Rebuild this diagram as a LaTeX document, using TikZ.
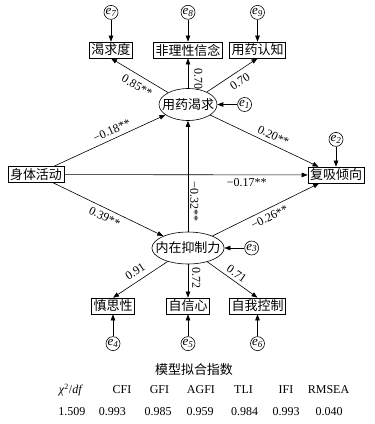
\documentclass[tikz,border=0pt]{standalone}
\usepackage{fontspec}
\setmainfont{Liberation Serif}
\newfontfamily\cjk{Noto Sans CJK SC}
\usetikzlibrary{positioning, arrows.meta, shapes.geometric}

\begin{document}
\begin{tikzpicture}[
  x=1pt, y=-1pt,
  node distance=22pt,
  obs/.style={rectangle, draw, line width=0.6pt,
              font=\cjk\fontsize{13}{13}\selectfont,
              inner xsep=2pt, inner ysep=2pt},
  lat/.style={ellipse, draw, line width=0.6pt,
              font=\cjk\fontsize{13}{13}\selectfont,
              inner xsep=-5.5pt, inner ysep=5.3pt},
  err/.style={circle, draw, line width=0.6pt, inner sep=0pt,
              minimum size=14pt, font=\fontsize{13}{13}\selectfont\itshape},
  arr/.style={-{Triangle[length=6pt, width=4.5pt]}, line width=0.6pt},
  coef/.style={font=\fontsize{12}{12}\selectfont, inner sep=4pt},
  idx/.style={font=\fontsize{12}{12}\selectfont, inner sep=0pt}
]
\useasboundingbox (0,0) rectangle (375,424);

% variables
\node[obs] (sthd) at (36,174.5) {身体活动};
\node[obs] (fxqx) at (336,175) {复吸倾向};
\node[lat] (yyqk) at (188,104.5) {用药渴求};
\node[lat, inner xsep=-7pt] (nzyz) at (188,248) {内在抑制力};
\node[obs] (kqd) at (111,50) {渴求度};
\node[obs] (flxx) at (188,50) {非理性信念};
\node[obs] (yyrz) at (257.5,50) {用药认知};
\node[obs] (sx) at (113,306) {慎思性};
\node[obs] (zxx) at (188,306) {自信心};
\node[obs] (zwkz) at (257.5,306) {自我控制};

% residuals
\node[err, above=of kqd] (e7) {e\textsubscript{7}};
\node[err, above=of flxx] (e8) {e\textsubscript{8}};
\node[err, above=of yyrz] (e9) {e\textsubscript{9}};
\node[err, right=20pt of yyqk] (e1) {e\textsubscript{1}};
\node[err, above=20pt of fxqx] (e2) {e\textsubscript{2}};
\node[err, right=20pt of nzyz] (e3) {e\textsubscript{3}};
\node[err, below=of sx] (e4) {e\textsubscript{4}};
\node[err, below=of zxx] (e5) {e\textsubscript{5}};
\node[err, below=of zwkz] (e6) {e\textsubscript{6}};

\draw[arr] (e7) -- (kqd);
\draw[arr] (e8) -- (flxx);
\draw[arr] (e9) -- (yyrz);
\draw[arr] (e1) -- (yyqk);
\draw[arr] (e2) -- (fxqx);
\draw[arr] (e3) -- (nzyz);
\draw[arr] (e4) -- (sx);
\draw[arr] (e5) -- (zxx);
\draw[arr] (e6) -- (zwkz);

% paths
\draw[arr] (yyqk) -- node[coef, sloped, below, pos=0.45, inner sep=6pt] {0.85**} (kqd.south);
\draw[arr] (yyqk) -- node[coef, rotate=-90, anchor=south, pos=0.3, inner sep=6pt] {0.70} (flxx);
\draw[arr] (yyqk) -- node[coef, sloped, below, pos=0.55, inner sep=5pt] {0.70} (yyrz.south);
\draw[arr] (sthd) -- node[coef, sloped, above, pos=0.55] {−0.18**} (yyqk);
\draw[arr] (yyqk) -- node[coef, sloped, above, pos=0.55] {0.20**} (fxqx);
\draw[arr] (sthd) -- node[coef, below, pos=0.75, inner sep=3pt] {−0.17**} (fxqx);
\draw[arr] (sthd) -- node[coef, sloped, below, pos=0.5] {0.39**} (nzyz);
\draw[arr] (nzyz) -- node[coef, rotate=-90, anchor=south, pos=0.27, inner sep=2pt] {−0.32**} (yyqk);
\draw[arr] (nzyz) -- node[coef, sloped, below, pos=0.5] {−0.26**} (fxqx);
\draw[arr] (nzyz) -- node[coef, sloped, above, pos=0.5, inner sep=5pt] {0.91} (sx.north);
\draw[arr] (nzyz) -- node[coef, sloped, above, pos=0.42] {0.72} (zxx);
\draw[arr] (nzyz) -- node[coef, sloped, above, pos=0.5, inner sep=3pt] {0.71} (zwkz.north);

% fit indices
\node[idx, font=\cjk\fontsize{13}{13}\selectfont] (title) at (194,370) {模型拟合指数};
\foreach \x/\t [count=\i] in {71/{\textit{χ}\textsuperscript{2}/\textit{df}}, 122/CFI, 159.5/GFI,
    201/AGFI, 243.5/TLI, 286/IFI, 328.5/RMSEA}
  \node[idx] (h\i) at (\x,390) {\t};
\foreach \x/\t [count=\i] in {72/1.509, 112.5/0.993, 158/0.985, 200/0.959,
    244.5/0.984, 286/0.993, 329/0.040}
  \node[idx] (v\i) at (\x,411.5) {\t};
\end{tikzpicture}
\end{document}
